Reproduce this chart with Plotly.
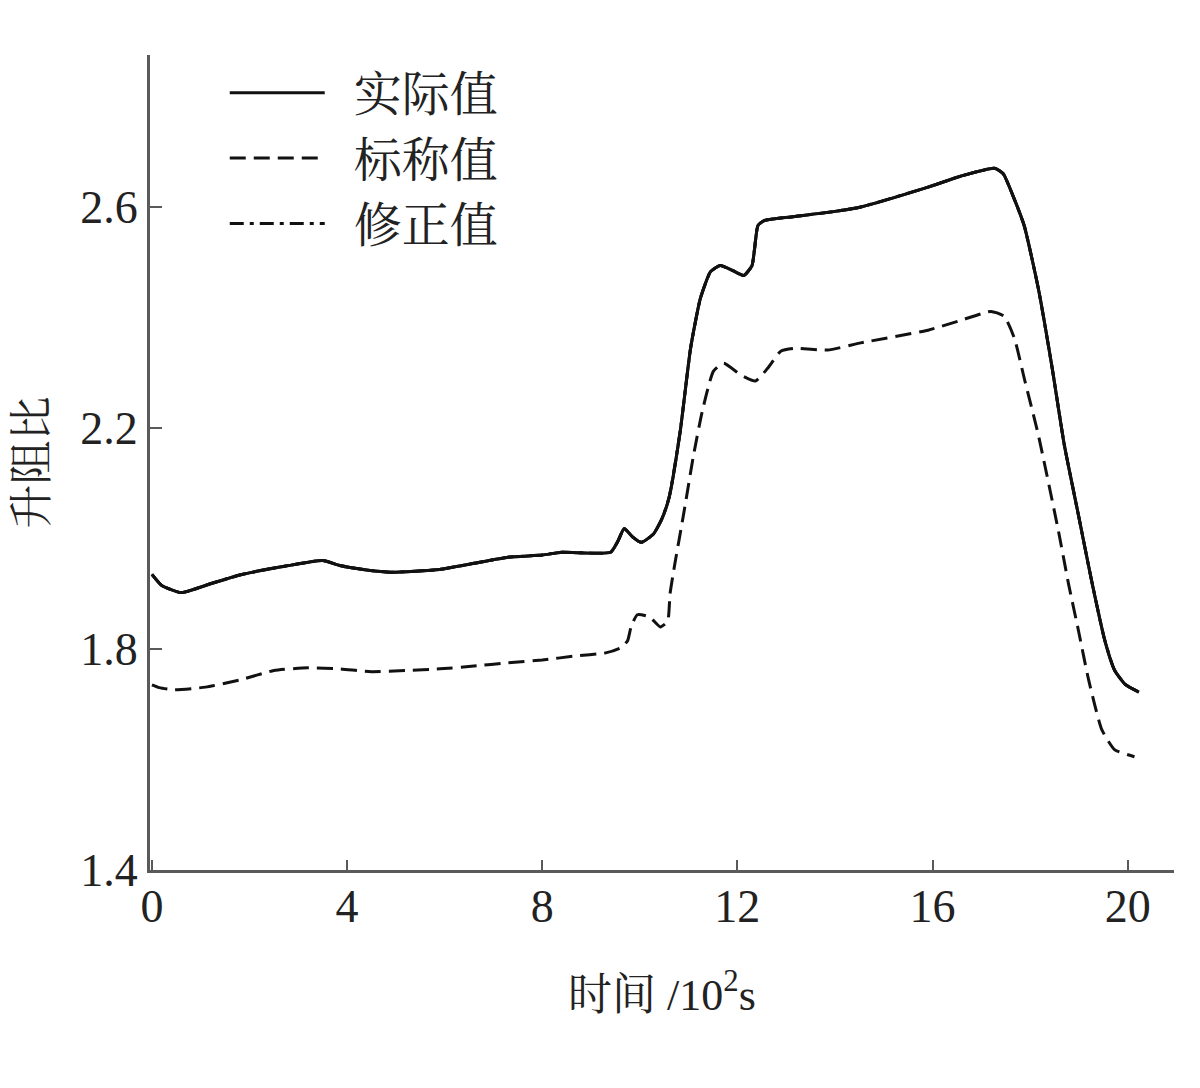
import plotly.graph_objects as go

# ---- data ----
series_names = ["实际值", "标称值", "修正值"]

actual_x = [0.0, 0.2, 0.6, 1.2, 1.8, 2.8, 3.5, 3.85, 4.4, 4.9, 5.9, 6.6, 7.3, 8.0, 8.4, 9.4,
            9.55, 9.68, 9.85, 10.03, 10.28, 10.45, 10.6, 10.83, 11.04, 11.24, 11.45, 11.65,
            11.9, 12.13, 12.3, 12.42, 12.54, 13.1, 14.0, 14.53, 15.91, 16.59, 17.27, 17.45,
            17.65, 17.88, 18.17, 18.45, 18.7, 18.99, 19.26, 19.53, 19.73, 19.95, 20.23]
actual_y = [1.935, 1.915, 1.902, 1.918, 1.934, 1.951, 1.960, 1.951, 1.943, 1.939, 1.944, 1.955,
            1.966, 1.970, 1.975, 1.975, 1.995, 2.018, 2.003, 1.993, 2.008, 2.035, 2.074, 2.195,
            2.344, 2.434, 2.483, 2.494, 2.485, 2.476, 2.494, 2.566, 2.575, 2.582, 2.592, 2.600,
            2.636, 2.656, 2.670, 2.660, 2.620, 2.566, 2.452, 2.310, 2.170, 2.043, 1.924, 1.816,
            1.762, 1.736, 1.722]

nominal_x = [0.0, 0.15, 0.45, 1.1, 1.8, 2.5, 3.2, 3.85, 4.5, 5.2, 5.9, 6.6, 7.3, 8.0, 8.65,
             9.3, 9.6, 9.75, 9.82, 9.95, 10.2, 10.42, 10.57, 10.62, 10.72, 10.9, 11.1, 11.28,
             11.51, 11.72, 12.07, 12.37, 12.62, 12.89, 13.16, 13.85, 14.53, 15.91, 16.59, 17.2,
             17.47, 17.68, 17.88, 18.17, 18.58, 18.79, 18.99, 19.2, 19.47, 19.73, 20.14]
nominal_y = [1.735, 1.730, 1.726, 1.731, 1.744, 1.761, 1.766, 1.764, 1.759, 1.761, 1.764, 1.769,
             1.775, 1.780, 1.787, 1.793, 1.802, 1.815, 1.840, 1.862, 1.858, 1.840, 1.850, 1.900,
             1.955, 2.045, 2.150, 2.230, 2.303, 2.317, 2.296, 2.285, 2.308, 2.339, 2.344, 2.341,
             2.354, 2.377, 2.395, 2.411, 2.402, 2.362, 2.290, 2.187, 2.014, 1.917, 1.834, 1.744,
             1.654, 1.618, 1.605]

# 修正值 coincides with the actual value in the picture
corrected_x = list(actual_x)
corrected_y = list(actual_y)

x_tick_vals = [0, 4, 8, 12, 16, 20]
y_tick_vals = [1.4, 1.8, 2.2, 2.6]
y_tick_text = ["1.4", "1.8", "2.2", "2.6"]

FONT = "Liberation Serif, Noto Serif CJK SC, Noto Sans CJK SC, serif"
TEXT_COLOR = "#222222"
LINE_COLOR = "#111111"
AXIS_COLOR = "#5a5a5a"
GAP = "\u00a0\u00a0"

fig = go.Figure()

fig.add_trace(go.Scatter(
    x=actual_x, y=actual_y, mode="lines", name=GAP + series_names[0], legendgroup="a",
    line=dict(color=LINE_COLOR, width=3, shape="spline", smoothing=0.5),
    legendrank=1,
))
fig.add_trace(go.Scatter(
    x=nominal_x, y=nominal_y, mode="lines", name=GAP + series_names[1], legendgroup="b",
    line=dict(color=LINE_COLOR, width=3, dash="16px,8px", shape="spline", smoothing=0.5),
    legendrank=2,
))
fig.add_trace(go.Scatter(
    x=corrected_x, y=corrected_y, mode="lines", name=GAP + series_names[2], legendgroup="c",
    line=dict(color=LINE_COLOR, width=3, dash="14px,6px,4px,6px", shape="spline", smoothing=0.5),
    legendrank=3,
))
# redraw actual on top so the coincident corrected line is hidden as in the picture
fig.add_trace(go.Scatter(
    x=actual_x, y=actual_y, mode="lines", showlegend=False, hoverinfo="skip",
    line=dict(color=LINE_COLOR, width=3, shape="spline", smoothing=0.5),
))

fig.update_layout(
    width=1184, height=1072,
    paper_bgcolor="white", plot_bgcolor="white",
    margin=dict(l=142, r=18, t=47, b=210, autoexpand=False),
    font=dict(family=FONT, size=44, color=TEXT_COLOR),
    showlegend=True,
    legend=dict(
        x=0.073, y=1.0, xanchor="left", yanchor="top",
        bgcolor="rgba(0,0,0,0)", itemwidth=95,
        font=dict(family=FONT, size=48, color=TEXT_COLOR),
        tracegroupgap=0,
    ),
    xaxis=dict(
        range=[-0.04, 20.95], tickvals=x_tick_vals, automargin=False,
        ticks="inside", ticklen=10, tickwidth=2, tickcolor=AXIS_COLOR,
        showline=True, linecolor=AXIS_COLOR, linewidth=3,
        showgrid=False, zeroline=False, ticklabelstandoff=-6,
        tickfont=dict(family=FONT, size=46, color=TEXT_COLOR),
        title=dict(text="时间 /10<sup>2</sup>s", standoff=48,
                   font=dict(family=FONT, size=44, color=TEXT_COLOR)),
    ),
    yaxis=dict(
        range=[1.4, 2.875], tickvals=y_tick_vals, ticktext=y_tick_text, automargin=False,
        ticks="inside", ticklen=12, tickwidth=2, tickcolor=AXIS_COLOR,
        showline=True, linecolor=AXIS_COLOR, linewidth=3,
        showgrid=False, zeroline=False,
        tickfont=dict(family=FONT, size=46, color=TEXT_COLOR),
        title=dict(text="升阻比", standoff=20,
                   font=dict(family=FONT, size=44, color=TEXT_COLOR)),
    ),
)

fig.write_html("out.html")
